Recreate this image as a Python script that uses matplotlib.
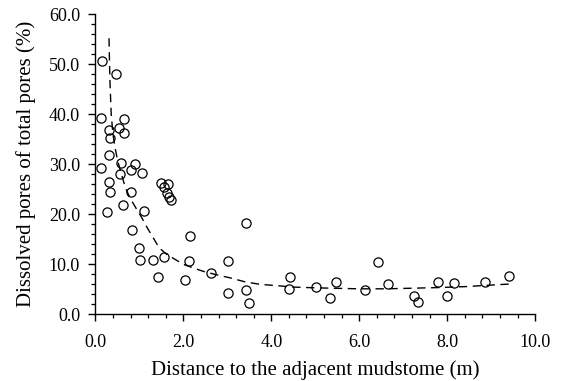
import numpy as np
import matplotlib
import matplotlib.pyplot as plt
from matplotlib.ticker import MultipleLocator, FormatStrFormatter

matplotlib.use('agg')
plt.rcParams['font.family'] = ['Liberation Serif', 'DejaVu Serif']

# 测点：距邻近泥岩距离 (m) 与溶蚀孔占总孔比例 (%)
distance = [0.16, 0.46, 0.13, 0.65, 0.31, 0.54, 0.64, 0.33, 0.30, 0.58,
            0.91, 0.13, 0.81, 1.05, 0.55, 0.32, 1.49, 1.65, 1.55, 1.62,
            1.68, 1.72, 0.33, 0.80, 0.26, 0.62, 1.10, 0.84, 0.99, 1.02,
            1.30, 1.56, 1.42, 2.15, 2.14, 2.04, 2.64, 3.01, 3.01, 3.42,
            3.42, 3.50, 4.42, 4.41, 5.01, 5.33, 5.47, 6.13, 6.43, 6.66,
            7.24, 7.34, 7.80, 8.00, 8.15, 8.86, 9.41]
dissolved = [50.7, 48.1, 39.3, 39.1, 36.9, 37.2, 36.2, 35.2, 31.9, 30.2,
             30.1, 29.2, 28.9, 28.2, 28.0, 26.5, 26.2, 26.0, 25.4, 24.2,
             23.5, 22.9, 24.5, 24.5, 20.4, 21.8, 20.6, 16.9, 13.2, 10.9,
             10.9, 11.5, 7.4, 15.7, 10.7, 6.9, 8.3, 10.7, 4.3, 18.3,
             4.9, 2.2, 7.4, 5.0, 5.5, 3.3, 6.5, 4.9, 10.5, 6.0,
             3.7, 2.5, 6.5, 3.7, 6.2, 6.5, 7.7]

# 拟合趋势线
fit_x = [0.31, 0.33, 0.36, 0.40, 0.45, 0.51, 0.60, 0.68, 0.79, 0.94,
         1.05, 1.20, 1.31, 1.45, 1.62, 1.81, 2.00, 2.22, 2.45, 2.76,
         3.06, 3.40, 3.74, 4.10, 4.50, 5.00, 5.50, 6.00, 6.60, 7.10,
         7.80, 8.44, 8.90, 9.40]
fit_y = [55.2, 47.0, 40.0, 36.0, 33.2, 30.6, 27.8, 25.4, 23.2, 21.0,
         19.4, 17.0, 15.4, 13.3, 12.0, 11.0, 10.0, 9.3, 8.6, 7.9,
         7.3, 6.5, 6.0, 5.75, 5.45, 5.3, 5.2, 5.1, 5.1, 5.2,
         5.35, 5.55, 5.8, 6.05]

fig = plt.figure(figsize=(5.61, 3.81), dpi=100)
ax = fig.add_axes([0.170, 0.175, 0.784, 0.7875])

ax.plot(fit_x, fit_y, color='k', lw=1.0, dashes=(6, 4), zorder=2)
ax.plot(distance, dissolved, 'o', ms=6.6, mfc='none', mec='k', mew=0.9, zorder=3)

ax.set_xlim(0, 10)
ax.set_ylim(0, 60)
ax.xaxis.set_major_locator(MultipleLocator(2))
ax.xaxis.set_minor_locator(MultipleLocator(0.4))
ax.yaxis.set_major_locator(MultipleLocator(10))
ax.yaxis.set_minor_locator(MultipleLocator(2))
ax.xaxis.set_major_formatter(FormatStrFormatter('%.1f'))
ax.yaxis.set_major_formatter(FormatStrFormatter('%.1f'))

for side in ['top', 'right']:
    ax.spines[side].set_visible(False)
for side in ['left', 'bottom']:
    ax.spines[side].set_linewidth(1.0)

ax.tick_params(which='major', direction='out', length=5, width=1.0, labelsize=13)
ax.tick_params(axis='y', which='major', pad=6)
ax.tick_params(axis='x', which='major', pad=9)
ax.tick_params(which='minor', direction='out', length=3, width=0.9)

ax.set_xlabel('Distance to the adjacent mudstome (m)', fontsize=15, labelpad=6.5)
ax.set_ylabel('Dissolved pores of total pores (%)', fontsize=15, labelpad=9)

plt.savefig('out.png', dpi=100)
